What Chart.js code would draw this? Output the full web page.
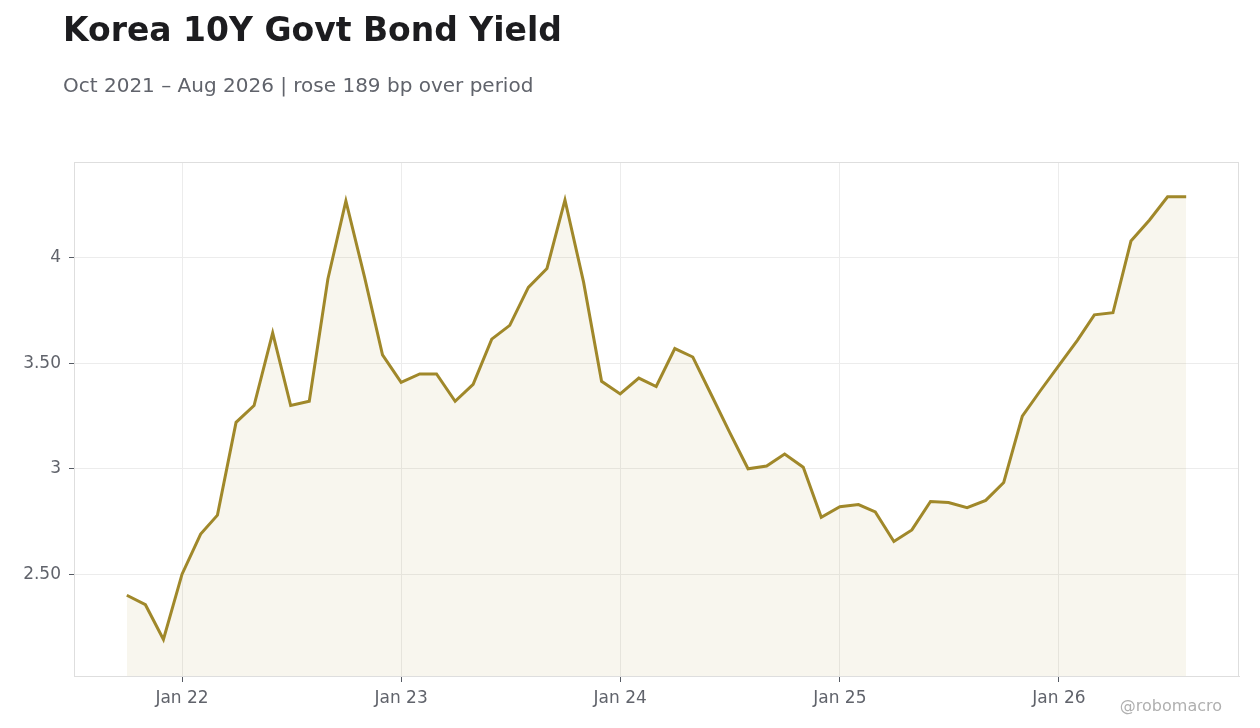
<!DOCTYPE html>
<html lang="en">
<head>
    <meta charset="UTF-8">
    <title>Korea 10Y Govt Bond Yield</title>
    <script src="https://cdn.jsdelivr.net/npm/chart.js@4.4.0/dist/chart.umd.min.js"></script>
    <style>
        html, body { margin: 0; padding: 0; background: #ffffff; }
        #canvas { display: block; }
    </style>
</head>
<body>
    <canvas id="canvas" width="1260" height="728"></canvas>
    <script>
        // monthly, Oct 2021 .. Aug 2026
        const months = [
            '2021-10', '2021-11', '2021-12',
            '2022-01', '2022-02', '2022-03', '2022-04', '2022-05', '2022-06', '2022-07', '2022-08', '2022-09', '2022-10', '2022-11', '2022-12',
            '2023-01', '2023-02', '2023-03', '2023-04', '2023-05', '2023-06', '2023-07', '2023-08', '2023-09', '2023-10', '2023-11', '2023-12',
            '2024-01', '2024-02', '2024-03', '2024-04', '2024-05', '2024-06', '2024-07', '2024-08', '2024-09', '2024-10', '2024-11', '2024-12',
            '2025-01', '2025-02', '2025-03', '2025-04', '2025-05', '2025-06', '2025-07', '2025-08', '2025-09', '2025-10', '2025-11', '2025-12',
            '2026-01', '2026-02', '2026-03', '2026-04', '2026-05', '2026-06', '2026-07', '2026-08'
        ]
        const yields = [
            2.40, 2.355, 2.19,
            2.50, 2.69, 2.78, 3.22, 3.30, 3.645, 3.30, 3.32, 3.90, 4.27, 3.91, 3.54,
            3.41, 3.45, 3.45, 3.32, 3.40, 3.615, 3.68, 3.86, 3.95, 4.275, 3.885, 3.415,
            3.355, 3.43, 3.39, 3.57, 3.53, 3.35, 3.175, 3.00, 3.013, 3.07, 3.007, 2.77,
            2.82, 2.83, 2.795, 2.655, 2.71, 2.845, 2.84, 2.815, 2.85, 2.935, 3.25, 3.37,
            3.49, 3.61, 3.73, 3.74, 4.08, 4.18, 4.29, 4.29
        ]
        const xTickMonths = ['2022-01', '2023-01', '2024-01', '2025-01', '2026-01']
        const xTickLabels = ['Jan 22', 'Jan 23', 'Jan 24', 'Jan 25', 'Jan 26']
        const yTickValues = [2.5, 3, 3.5, 4]

        const title = 'Korea 10Y Govt Bond Yield'
        const subtitle = 'Oct 2021 – Aug 2026 | rose 189 bp over period'
        const credit = '@robomacro'

        const FONT = '"DejaVu Sans", sans-serif'
        const lineColor = '#a0882a'
        const textColor = '#60636b'
        const DAY = 86400000

        // x position = days since the first month, so the axis spaces months like a time axis
        const t0 = Date.UTC(2021, 9, 1)
        const dayOf = (m) => {
            const [yy, mm] = m.split('-').map(Number)
            return (Date.UTC(yy, mm - 1, 1) - t0) / DAY
        }

        const fmtYield = (v) => Number.isInteger(v) ? String(v) : v.toFixed(2)

        const textPlugin = {
            id: 'texts',
            beforeDraw: (chart) => {
                const ctx = chart.ctx
                ctx.save()
                ctx.fillStyle = '#ffffff'
                ctx.fillRect(0, 0, chart.width, chart.height)
                ctx.restore()
            },
            afterDraw: (chart) => {
                const ctx = chart.ctx
                const area = chart.chartArea
                ctx.save()
                ctx.strokeStyle = '#dedede'
                ctx.lineWidth = 1
                ctx.strokeRect(area.left + 0.5, area.top + 0.5, area.right - area.left - 1, area.bottom - area.top)

                ctx.textBaseline = 'alphabetic'
                ctx.textAlign = 'left'
                ctx.fillStyle = '#1c1c1f'
                ctx.font = 'bold 33px ' + FONT
                ctx.fillText(title, 63, 41)

                ctx.fillStyle = textColor
                ctx.font = '20px ' + FONT
                ctx.fillText(subtitle, 63, 92)

                ctx.textAlign = 'right'
                ctx.fillStyle = '#b0b0b0'
                ctx.font = '16px ' + FONT
                ctx.fillText(credit, 1222, 711)
                ctx.restore()
            }
        }

        const points = yields.map((v, i) => ({ x: dayOf(months[i]), y: v }))

        new Chart(document.getElementById('canvas').getContext('2d'), {
            type: 'line',
            data: {
                datasets: [{
                    label: 'Korea 10Y',
                    data: points,
                    borderColor: lineColor,
                    backgroundColor: 'rgba(160, 136, 42, 0.08)',
                    borderWidth: 3,
                    pointRadius: 0,
                    tension: 0,
                    fill: 'start'
                }]
            },
            options: {
                responsive: false,
                animation: false,
                devicePixelRatio: 1,
                layout: { padding: { top: 162, right: 21, left: 0, bottom: 0 } },
                plugins: {
                    legend: { display: false },
                    tooltip: { enabled: false },
                    title: { display: false }
                },
                scales: {
                    x: {
                        type: 'linear',
                        min: -88,
                        max: 1853,
                        afterBuildTicks: (scale) => {
                            scale.ticks = xTickMonths.map(m => ({ value: dayOf(m) }))
                        },
                        afterFit: (scale) => { scale.height = 52 },
                        ticks: {
                            autoSkip: false,
                            maxRotation: 0,
                            padding: 6,
                            color: textColor,
                            font: { family: FONT, size: 17 },
                            callback: (v) => {
                                const k = xTickMonths.findIndex(m => dayOf(m) === v)
                                return k >= 0 ? xTickLabels[k] : ''
                            }
                        },
                        grid: { color: '#ececec', tickColor: '#555a63', tickLength: 6 },
                        border: { color: '#dedede' }
                    },
                    y: {
                        min: 2.017,
                        max: 4.455,
                        afterBuildTicks: (scale) => {
                            scale.ticks = yTickValues.map(v => ({ value: v }))
                        },
                        afterFit: (scale) => { scale.width = 74 },
                        ticks: {
                            padding: 8,
                            color: textColor,
                            font: { family: FONT, size: 17 },
                            callback: (v) => fmtYield(v)
                        },
                        grid: { color: '#ececec', tickColor: '#555a63', tickLength: 5 },
                        border: { color: '#dedede' }
                    }
                }
            },
            plugins: [textPlugin]
        })
    </script>
</body>
</html>
